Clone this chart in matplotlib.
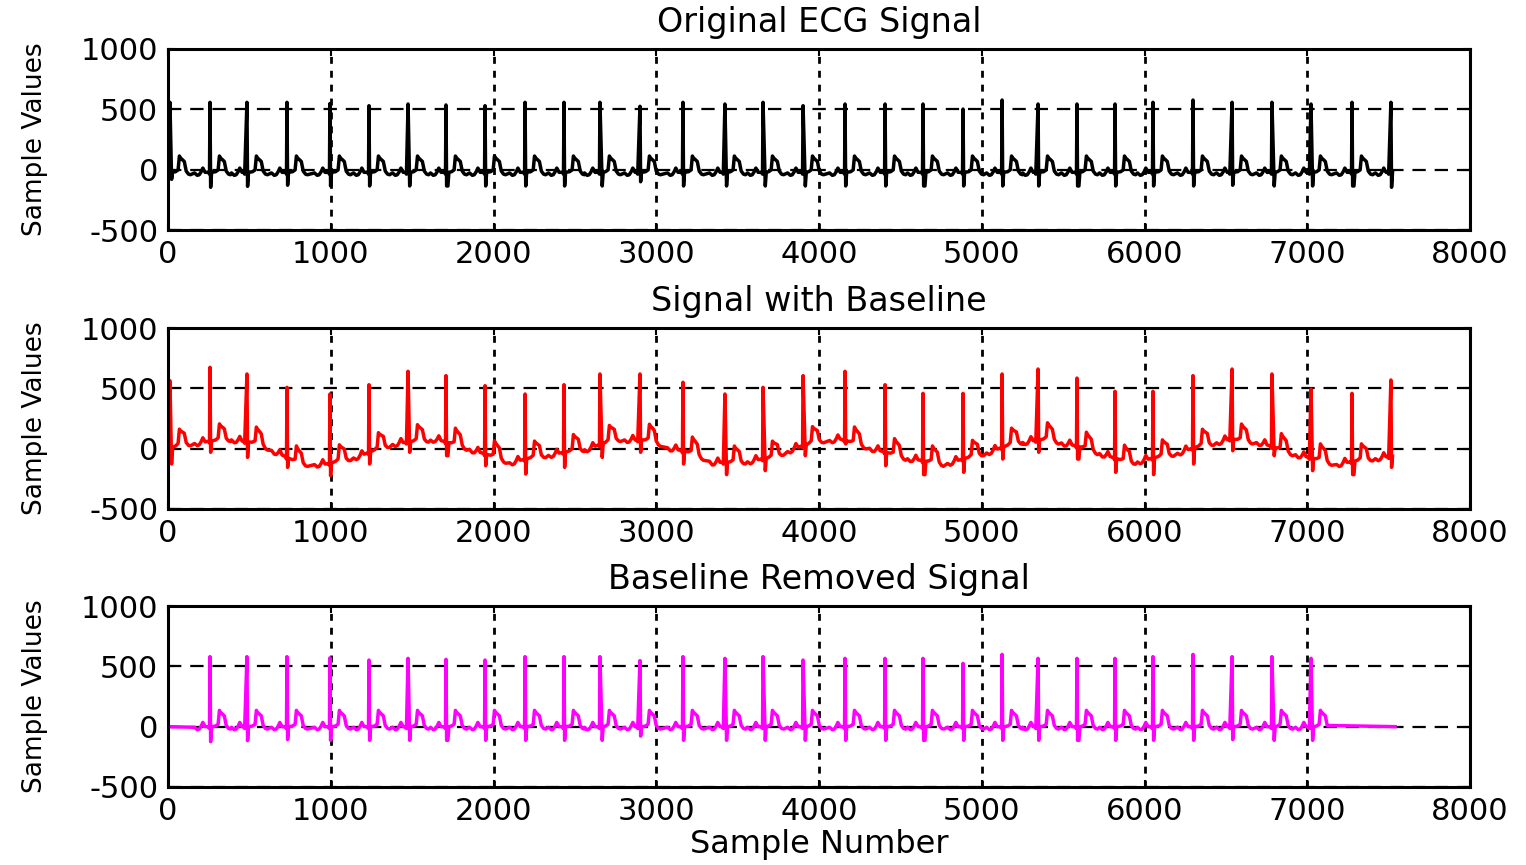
import matplotlib.pyplot as plt
import numpy as np

plt.rcParams['font.family'] = 'DejaVu Sans'
plt.rcParams['axes.unicode_minus'] = False

# posisi puncak R tiap detak (nomor sampel)
r_pos = [12, 258, 485, 731, 995, 1235, 1475, 1708, 1948, 2194, 2433, 2654,
         2900, 3164, 3422, 3656, 3902, 4160, 4406, 4639, 4885, 5125, 5346,
         5585, 5819, 6052, 6298, 6538, 6783, 7023, 7275, 7514]

# sinyal asli: puncak R dan lembah S
r_black = [558, 558, 558, 558, 548, 530, 544, 536, 530, 558, 558, 558,
           525, 558, 544, 558, 530, 544, 544, 544, 502, 577, 544, 544,
           544, 558, 577, 558, 558, 544, 558, 558]
s_black = [-80, -146, -138, -129, -135, -135, -135, -135, -135, -135, -135, -135,
           -100, -135, -135, -135, -135, -135, -135, -135, -135, -135, -135, -135,
           -135, -135, -135, -129, -135, -135, -135, -146]
black_level = -22

# sinyal dengan baseline: puncak R dan lembah S
r_red = [563, 674, 619, 508, 453, 530, 641, 605, 522, 453, 530, 619,
         619, 550, 453, 508, 605, 641, 530, 458, 458, 619, 660, 585,
         475, 475, 605, 660, 619, 494, 458, 569]
s_red = [-127, -30, -72, -155, -224, -127, -30, -58, -141, -210, -155, -72,
         -30, -127, -215, -182, -58, 39, -141, -215, -196, -86, -30, -86,
         -196, -215, -127, -17, -58, -182, -215, -155]

# garis dasar (baseline wander) sinyal merah
wander_x = [0, 104, 381, 565, 688, 811, 977, 1057, 1180, 1382, 1640, 1794,
            1948, 2101, 2304, 2575, 2765, 2980, 3072, 3238, 3349, 3515, 3717,
            3840, 4006, 4129, 4332, 4516, 4762, 4928, 5032, 5223, 5407, 5647,
            5892, 5929, 6175, 6353, 6525, 6710, 6882, 7177, 7447, 7540]
wander_y = [0, 39, 80, 39, -44, -127, -127, -102, -58, 41, 80, 25,
            -44, -113, -58, 0, 80, 66, 11, -44, -113, -113, -72,
            0, 66, 80, 0, -72, -127, -72, -30, 52, 80, 0,
            -113, -113, -44, 25, 80, 52, -30, -127, -72, -60]

# bentuk kompleks QRS tiap detak
r_rise = [10, 3, 14, 3, 3, 3, 10, 3, 3, 3, 3, 3, 14, 3, 10, 3,
          3, 3, 3, 3, 3, 3, 14, 3, 3, 3, 3, 14, 3, 10, 3, 14]
r_fall = [10, 4, 4, 4, 4, 4, 10, 4, 4, 4, 4, 14, 4, 4, 10, 14,
          14, 4, 4, 4, 4, 4, 4, 4, 4, 4, 4, 4, 14, 10, 4, 4]
s_wide = [0, 0, 0, 0, 0, 0, 0, 8, 0, 0, 0, 0, 0, 0, 0, 0,
          0, 0, 0, 8, 0, 0, 0, 8, 0, 0, 0, 0, 0, 0, 8, 0]

# gelombang P dan T (relatif terhadap puncak R)
pre_off = [-95, -78, -66, -54, -44, -30]
pre_val = [-5, -25, -20, 5, 35, 0]
post_off = [34, 50, 58, 64, 76, 88, 100, 114, 126]
post_val = [5, 20, 135, 120, 105, 90, 10, -15, -20]

x_end = 7540


def detak(i):
    r = r_pos[i]
    a, b = r_rise[i], r_fall[i]
    w = s_wide[i]
    xs = [r + o for o in pre_off]
    ys = list(pre_val)
    xs += [r - a - 5, r - a, r, r + b, r + b + w, r + b + w + 6]
    ys += [0, -15, 0, 0, 0, 0]
    ir = len(pre_off) + 2
    i_s = [ir + 1, ir + 2]
    xs += [r + o for o in post_off]
    ys += list(post_val)
    return np.array(xs, float), np.array(ys, float), ir, i_s


def susun(beats, mode):
    xs_all, ys_all = [], []
    for i in beats:
        xs, ys, ir, i_s = detak(i)
        if mode == 'black':
            ys = ys + black_level
            ys[ir] = r_black[i]
            ys[i_s] = s_black[i]
        elif mode == 'red':
            ys = ys + np.interp(xs, wander_x, wander_y)
            ys[ir] = r_red[i]
            ys[i_s] = s_red[i]
        else:
            ys[ir] = r_black[i] - black_level
            ys[i_s] = s_black[i] - black_level
        xs_all.append(xs)
        ys_all.append(ys)
    x = np.concatenate(xs_all)
    y = np.concatenate(ys_all)
    urut = np.argsort(x, kind='stable')
    x, y = x[urut], y[urut]
    ok = (x >= 0) & (x <= x_end)
    return x[ok], y[ok]


semua = range(len(r_pos))
xb, yb = susun(semua, 'black')
xb = np.concatenate([[0], xb])
yb = np.concatenate([[black_level], yb])

xr, yr = susun(semua, 'red')
xr = np.concatenate([[0], xr])
yr = np.concatenate([[wander_y[0]], yr])

# sinyal hasil: nol di awal dan di akhir (detak 1 s.d. 29 saja)
xm, ym = susun(range(1, 30), 'magenta')
xm = np.concatenate([[0], xm[:-2], [x_end]])
ym = np.concatenate([[0], ym[:-2], [0]])

fig = plt.figure(figsize=(15.26, 8.65), dpi=100)
kiri, lebar, tinggi = 168 / 1526, 1302 / 1526, 181 / 865
bawah = [(865 - 230) / 865, (865 - 509) / 865, (865 - 787) / 865]
judul = ['Original ECG Signal', 'Signal with Baseline', 'Baseline Removed Signal']
data = [(xb, yb, 'black'), (xr, yr, '#ff0000'), (xm, ym, '#ff00ff')]

for k in range(3):
    ax = fig.add_axes([kiri, bawah[k], lebar, tinggi])
    x, y, warna = data[k]
    ax.plot(x, y, color=warna, lw=2.5)
    ax.set_xlim(0, 8000)
    ax.set_ylim(-500, 1000)
    ax.set_xticks(np.arange(0, 8001, 1000))
    ax.set_yticks([-500, 0, 500, 1000])
    ax.grid(axis='x', color='k', ls=(0, (2.5, 2.5)), lw=2)
    ax.grid(axis='y', color='k', ls=(0, (6, 4)), lw=1.6)
    ax.tick_params(direction='in', length=5, width=1.5, top=True, right=True,
                   labelsize=22, pad=7)
    for sp in ax.spines.values():
        sp.set_linewidth(2.2)
    ax.set_title(judul[k], fontsize=24, pad=12)
    ax.set_ylabel('Sample Values', fontsize=19)
    ax.yaxis.set_label_coords(-0.092, 0.5)
    if k == 2:
        ax.set_xlabel('Sample Number', fontsize=23, labelpad=2)

fig.savefig('out.png', dpi=100)
